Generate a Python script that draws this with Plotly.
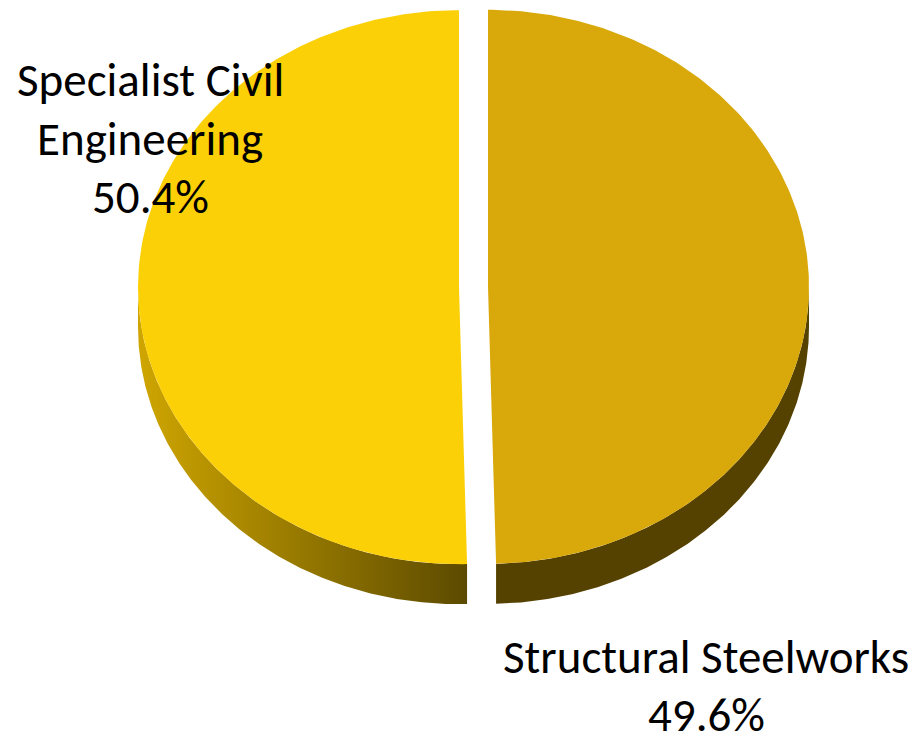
import numpy as np
import plotly.graph_objects as go

# ---- data ----
categories = ["Structural Steelworks", "Specialist Civil Engineering"]
shares = [49.6, 50.4]
label_lines = [["Structural Steelworks"], ["Specialist Civil", "Engineering"]]
top_colors = ["#D9A80B", "#FCD007"]
side_fills = [
    dict(color="#564200", gradient=None),
    dict(color="#9A7C00", gradient=[[0, "#CFA600"], [1, "#5C4A00"]]),
]

# ---- canvas (page body has an 8px margin; axes map to window pixels) ----
W, H = 916, 732
OFF = 8
# ---- geometry of the tilted pie (window pixel space) ----
CX, CY = 473.5, 287.0
RA, RB = 321.0, 277.0
DEPTH = 40.0
EXPLODE = 14.5
N = 240

fig = go.Figure()
total = float(sum(shares))
bounds = []
start = 0.0
for v in shares:
    end = start + v / total * 2 * np.pi
    bounds.append((start, end))
    start = end

# sides first
for i, (t0, t1) in enumerate(bounds):
    mid = (t0 + t1) / 2
    dx = EXPLODE * np.sin(mid)
    dy = -EXPLODE * (RB / RA) * np.cos(mid)
    s0, s1 = max(t0, np.pi / 2), min(t1, 3 * np.pi / 2)
    if s1 <= s0:
        continue
    th = np.linspace(s0, s1, N)
    xs = CX + dx + RA * np.sin(th)
    ys = CY + dy - RB * np.cos(th)
    px = np.concatenate([xs, xs[::-1], xs[:1]])
    py = np.concatenate([ys, ys[::-1] + DEPTH, ys[:1]])
    kw = dict(x=px, y=py, mode="lines", fill="toself", line=dict(width=0),
              hoverinfo="skip", showlegend=False)
    sf = side_fills[i]
    if sf["gradient"]:
        kw["fillgradient"] = dict(type="horizontal", colorscale=sf["gradient"])
    else:
        kw["fillcolor"] = sf["color"]
    fig.add_trace(go.Scatter(**kw))

# top faces
for i, (t0, t1) in enumerate(bounds):
    mid = (t0 + t1) / 2
    dx = EXPLODE * np.sin(mid)
    dy = -EXPLODE * (RB / RA) * np.cos(mid)
    th = np.linspace(t0, t1, N)
    xs = CX + dx + RA * np.sin(th)
    ys = CY + dy - RB * np.cos(th)
    px = np.concatenate([[CX + dx], xs, [CX + dx]])
    py = np.concatenate([[CY + dy], ys, [CY + dy]])
    pct = shares[i] / total * 100
    fig.add_trace(go.Scatter(
        x=px, y=py, mode="lines", fill="toself", fillcolor=top_colors[i],
        line=dict(width=0), hoveron="fills",
        name=categories[i], text=f"{categories[i]}: {pct:.1f}%", hoverinfo="text",
        showlegend=False))

# labels (one annotation per line for Excel-like line spacing)
label_pos = [(706, 656.5), (150, 80)]
LINE_STEP = 58.5
for i, (lx, ly) in enumerate(label_pos):
    pct = shares[i] / total * 100
    lines = label_lines[i] + [f"{pct:.1f}%"]
    for k, txt in enumerate(lines):
        fig.add_annotation(
            x=lx, y=ly + k * LINE_STEP, xref="x", yref="y", showarrow=False,
            text=txt, xanchor="center", yanchor="middle", align="center",
            font=dict(family="Carlito, Calibri, Lato, sans-serif", size=47, color="#000000"))

fig.update_layout(
    width=W - OFF, height=H - OFF,
    margin=dict(l=0, r=0, t=0, b=0),
    paper_bgcolor="white", plot_bgcolor="white",
    showlegend=False,
    xaxis=dict(range=[OFF, W], visible=False, fixedrange=True),
    yaxis=dict(range=[H, OFF], visible=False, fixedrange=True),
)

fig.write_html("out.html")
